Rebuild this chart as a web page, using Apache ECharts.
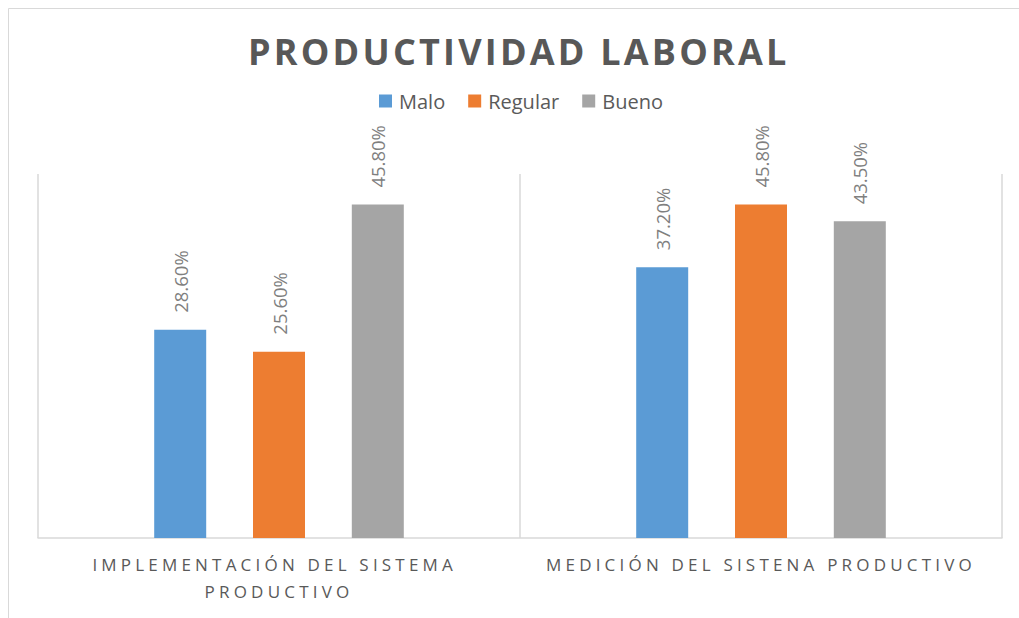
<!DOCTYPE html>
<html>
<head>
<meta charset="utf-8">
<script src="https://cdn.jsdelivr.net/npm/echarts@6/dist/echarts.min.js"></script>
<style>
  html, body { margin: 0; padding: 0; background: #fff; }
  #chart { width: 1019px; height: 618px; }
  /* Excel-style letter spacing for the title and the category labels */
  #chart text[fill="#585858"], #chart text[fill="rgb(88,88,88)"] { letter-spacing: 3.2px; }
  #chart text[fill="#595959"], #chart text[fill="rgb(89,89,89)"] { letter-spacing: 4.2px; }
</style>
</head>
<body>
<div id="chart"></div>
<script>
  const categories = ['IMPLEMENTACIÓN DEL SISTEMA PRODUCTIVO', 'MEDICIÓN DEL SISTENA PRODUCTIVO']
  const seriesNames = ['Malo', 'Regular', 'Bueno']
  const malo = [28.6, 37.2]
  const regular = [25.6, 45.8]
  const bueno = [45.8, 43.5]
  const colors = ['#5B9BD5', '#ED7D31', '#A5A5A5']

  const labelStyle = {
    show: true,
    position: 'top',
    distance: 17,
    rotate: 90,
    align: 'left',
    verticalAlign: 'middle',
    fontFamily: 'Open Sans',
    fontSize: 18.5,
    color: '#7F7F7F',
    formatter: function (p) {
      return p.value.toFixed(2) + '%'
    }
  }

  const seriesData = [malo, regular, bueno]
  const series = seriesNames.map(function (name, i) {
    return {
      name: name,
      type: 'bar',
      barWidth: 52,
      barGap: '90%',
      itemStyle: { color: colors[i] },
      label: labelStyle,
      data: seriesData[i]
    }
  })

  const myChart = echarts.init(document.getElementById('chart'), null, { renderer: 'svg' })
  myChart.setOption({
    animation: false,
    textStyle: { fontFamily: 'Open Sans' },
    title: {
      text: 'PRODUCTIVIDAD LABORAL',
      left: 248,
      top: 33,
      padding: 0,
      textStyle: {
        fontFamily: 'Open Sans',
        fontWeight: 'bold',
        fontSize: 36,
        color: '#585858'
      }
    },
    legend: {
      data: seriesNames,
      left: 379,
      top: 91,
      padding: 0,
      icon: 'rect',
      itemWidth: 13,
      itemHeight: 13,
      itemGap: 23,
      textStyle: {
        fontFamily: 'Open Sans',
        fontSize: 20,
        color: '#5A5A5A',
        padding: [0, 0, 0, 2]
      }
    },
    graphic: [
      {
        type: 'rect',
        shape: { x: 8.5, y: 8.5, width: 1200, height: 800 },
        style: { fill: 'none', stroke: '#D9D9D9', lineWidth: 1 },
        silent: true
      }
    ],
    grid: {
      left: 38,
      right: 17,
      top: 174,
      bottom: 80
    },
    xAxis: {
      type: 'category',
      data: categories,
      axisLine: { lineStyle: { color: '#D9D9D9', width: 1.5 } },
      axisTick: { show: false },
      splitLine: { show: true, lineStyle: { color: '#D9D9D9', width: 1.5 } },
      axisLabel: {
        margin: 13,
        fontFamily: 'Open Sans',
        fontSize: 17,
        lineHeight: 27,
        color: '#595959',
        width: 340,
        overflow: 'break'
      }
    },
    yAxis: {
      type: 'value',
      min: 0,
      max: 50,
      show: false
    },
    series: series
  })
</script>
</body>
</html>
